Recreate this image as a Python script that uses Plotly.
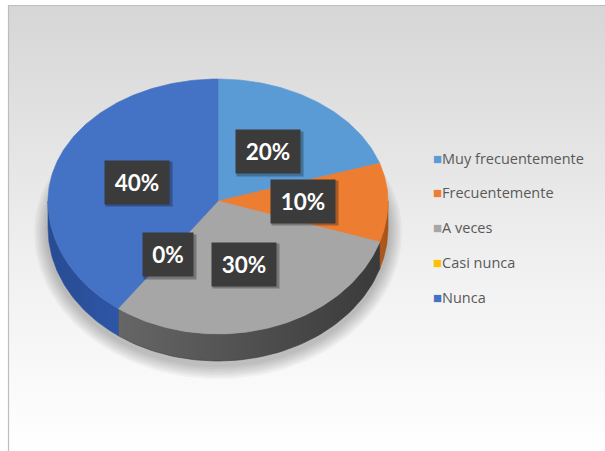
import numpy as np
import plotly.graph_objects as go

# ---- data -------------------------------------------------------------
categories = ["Muy frecuentemente", "Frecuentemente", "A veces", "Casi nunca", "Nunca"]
percentages = [20, 10, 30, 0, 40]
top_colors = ["#5b9bd5", "#ed7d31", "#a6a6a6", "#ffc000", "#4472c4"]
side_colors = [
    ["#3f78ad", "#35689a"],
    ["#b35a1c", "#a4521a"],
    ["#666666", "#3a3a3a"],
    ["#c29200", "#b08400"],
    ["#284b92", "#2e56a6"],
]

# ---- geometry of the tilted pie (page pixels) -------------------------
W, H = 605, 451
CX, CY = 218, 201
RX, RY_TOP, RY_BOT = 170, 122, 133
DEPTH = 27
LABEL_FRAC = 0.5


def rim(theta_deg, drop=0.0, scale=1.0):
    """Point(s) on the pie rim; angle measured clockwise from 12 o'clock."""
    t = np.radians(np.asarray(theta_deg, dtype=float))
    ry = np.where(np.cos(t) >= 0, RY_TOP, RY_BOT)
    x = CX + scale * RX * np.sin(t)
    y = CY - scale * ry * np.cos(t) + drop
    return x, y


spans = [p / 100 * 360 for p in percentages]
starts = np.concatenate([[0], np.cumsum(spans)[:-1]])

fig = go.Figure()

# chart-area background with soft vertical shading
fig.add_trace(go.Scatter(
    x=[9, W + 2, W + 2, 9, 9], y=[6, 6, H + 2, H + 2, 6],
    mode="lines", line=dict(width=0), fill="toself",
    fillgradient=dict(type="vertical",
                      colorscale=[[0, "#ffffff"], [0.4, "#f1f1f1"], [1, "#d6d6d6"]]),
    hoverinfo="skip", showlegend=False,
))

# soft drop shadow under the pie
th = np.linspace(0, 360, 181)
for k in range(14, 0, -2):
    t = np.radians(th)
    ry = np.where(np.cos(t) >= 0, RY_TOP, RY_BOT) + k
    fig.add_trace(go.Scatter(
        x=CX + (RX + k) * np.sin(t), y=CY + DEPTH + 4 - ry * np.cos(t),
        mode="lines", line=dict(width=0), fill="toself",
        fillcolor="rgba(0,0,0,0.035)", hoverinfo="skip", showlegend=False,
    ))

# front side walls of each slice
for a0, sp, sc in zip(starts, spans, side_colors):
    lo, hi = max(a0, 90), min(a0 + sp, 270)
    if hi <= lo:
        continue
    arc = np.linspace(lo, hi, 60)
    xt, yt = rim(arc)
    xb, yb = rim(arc[::-1], drop=DEPTH)
    fig.add_trace(go.Scatter(
        x=np.concatenate([xt, xb, xt[:1]]), y=np.concatenate([yt, yb, yt[:1]]),
        mode="lines", line=dict(width=0.6, color=sc[1]), fill="toself",
        fillgradient=dict(type="horizontal", colorscale=[[0, sc[0]], [1, sc[1]]]),
        hoverinfo="skip", showlegend=False,
    ))

# top faces of the slices
for cat, a0, sp, col in zip(categories, starts, spans, top_colors):
    if sp <= 0:
        continue
    arc = np.linspace(a0, a0 + sp, max(int(sp), 4))
    xa, ya = rim(arc)
    fig.add_trace(go.Scatter(
        x=np.concatenate([[CX], xa, [CX]]), y=np.concatenate([[CY], ya, [CY]]),
        mode="lines", line=dict(width=0.6, color=col), fill="toself",
        fillcolor=col, name=cat, hoverinfo="name", showlegend=False,
    ))

# legend entries
for i, (cat, col) in enumerate(zip(categories, top_colors)):
    fig.add_trace(go.Scatter(
        x=[None], y=[None], mode="markers",
        marker=dict(color="rgba(0,0,0,0)", size=1),
        name=f'<span style="color:{col};font-size:15px">■</span>{cat}',
        legendgroup=f"g{i}", showlegend=True,
    ))

# percentage labels in dark boxes
annotations = []
for p, a0, sp in zip(percentages, starts, spans):
    lx, ly = rim(a0 + sp / 2, scale=LABEL_FRAC)
    txt = f"{p}%"
    bw = 20 + 14 * len(txt)
    annotations.append(dict(
        x=float(lx), y=float(ly), xref="x", yref="y", text=" ", showarrow=False,
        width=bw + 2, height=42, bgcolor="rgba(0,0,0,0.28)", xshift=2, yshift=-2,
    ))
    annotations.append(dict(
        x=float(lx), y=float(ly), xref="x", yref="y", text=f"<b>{txt}</b>",
        showarrow=False, width=bw, height=41, bgcolor="#3b3b3b",
        font=dict(family="Lato", size=22.5, color="#ffffff"),
    ))

fig.update_layout(
    width=W, height=H, autosize=False,
    margin=dict(l=0, r=0, t=0, b=0),
    paper_bgcolor="#ffffff", plot_bgcolor="rgba(0,0,0,0)",
    xaxis=dict(range=[0, W], visible=False, fixedrange=True),
    yaxis=dict(range=[H, 0], visible=False, fixedrange=True),
    showlegend=True,
    legend=dict(
        x=393 / W, y=1 - 142 / H, xanchor="left", yanchor="top",
        bgcolor="rgba(0,0,0,0)",
        font=dict(family="Open Sans", size=14.5, color="#595959"),
        tracegroupgap=13, itemclick=False, itemdoubleclick=False,
    ),
    annotations=annotations,
    shapes=[
        # faint panel behind the legend
        dict(type="rect", xref="x", yref="y", x0=425, x1=598, y0=135, y1=320,
             fillcolor="rgba(255,255,255,0.35)", line=dict(width=0), layer="below"),
        dict(type="path", xref="x", yref="y",
             path=f"M 8.5 {H + 2} L 8.5 5.5 L {W + 2} 5.5",
             line=dict(color="#bdbdbd", width=1.2)),
    ],
)

fig.write_html("out.html")
